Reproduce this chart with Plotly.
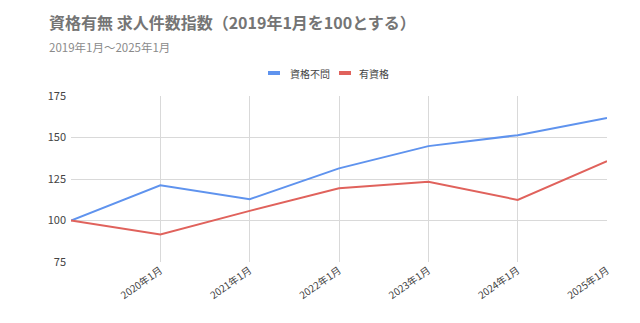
import plotly.graph_objects as go

years = [2019, 2020, 2021, 2022, 2023, 2024, 2025]
tick_years = [2020, 2021, 2022, 2023, 2024, 2025]
tick_labels = ["2020年1月", "2021年1月", "2022年1月", "2023年1月", "2024年1月", "2025年1月"]
no_qual = [100, 121.2, 112.8, 131.4, 144.8, 151.4, 161.8]
with_qual = [100, 91.6, 105.8, 119.4, 123.4, 112.4, 135.8]
series_names = ["資格不問", "有資格"]
series_colors = ["#5f93ee", "#e0625c"]

FONT = "Noto Sans CJK JP, Roboto, sans-serif"

fig = go.Figure()
for name, vals, col in zip(series_names, [no_qual, with_qual], series_colors):
    fig.add_trace(go.Scatter(x=years, y=vals, mode="lines", name=name,
                             line=dict(color=col, width=2), showlegend=False))

# manual legend (short dash swatches like the reference)
L, W, T, H = 71, 536, 96, 166
def px(x): return (x - L) / W
def py(y): return (T + H - y) / H

legend_items = [(268, 280, 288), (339, 351, 357)]
shapes = []
anns = []
for (x0, x1, tx), name, col in zip(legend_items, series_names, series_colors):
    shapes.append(dict(type="line", xref="paper", yref="paper", x0=px(x0), x1=px(x1),
                       y0=py(73), y1=py(73), line=dict(color=col, width=4)))
    anns.append(dict(text=name, xref="paper", yref="paper", x=px(tx), y=py(73),
                     xanchor="left", yanchor="middle", showarrow=False,
                     font=dict(size=10, color="#444444", family=FONT)))

anns += [
    dict(text="<b>資格有無 求人件数指数（2019年1月を100とする）</b>", xref="paper", yref="paper",
         x=px(47), y=py(22), xanchor="left", yanchor="middle", showarrow=False,
         font=dict(size=16, color="#757575", family=FONT)),
    dict(text="2019年1月～2025年1月", xref="paper", yref="paper",
         x=px(47), y=py(47), xanchor="left", yanchor="middle", showarrow=False,
         font=dict(size=11.5, color="#8a8a8a", family=FONT)),
]

fig.update_layout(
    width=640, height=323,
    margin=dict(l=71, r=33, t=96, b=61),
    paper_bgcolor="white", plot_bgcolor="white",
    font=dict(family=FONT, color="#444444", size=11),
    showlegend=False,
    shapes=shapes,
    annotations=anns,
)
fig.update_xaxes(range=[2019, 2025], tickvals=tick_years, ticktext=tick_labels,
                 tickangle=-35, showgrid=True, gridcolor="#d9d9d9", gridwidth=1,
                 zeroline=False, showline=False, ticks="", tickfont=dict(size=10, color="#444444"))
fig.update_yaxes(range=[75, 175], tickvals=[75, 100, 125, 150, 175],
                 showgrid=True, gridcolor="#d9d9d9", gridwidth=1, zeroline=False,
                 showline=False, ticks="", ticklabelstandoff=4,
                 tickfont=dict(size=11, color="#444444"))

fig.write_html("out.html")
